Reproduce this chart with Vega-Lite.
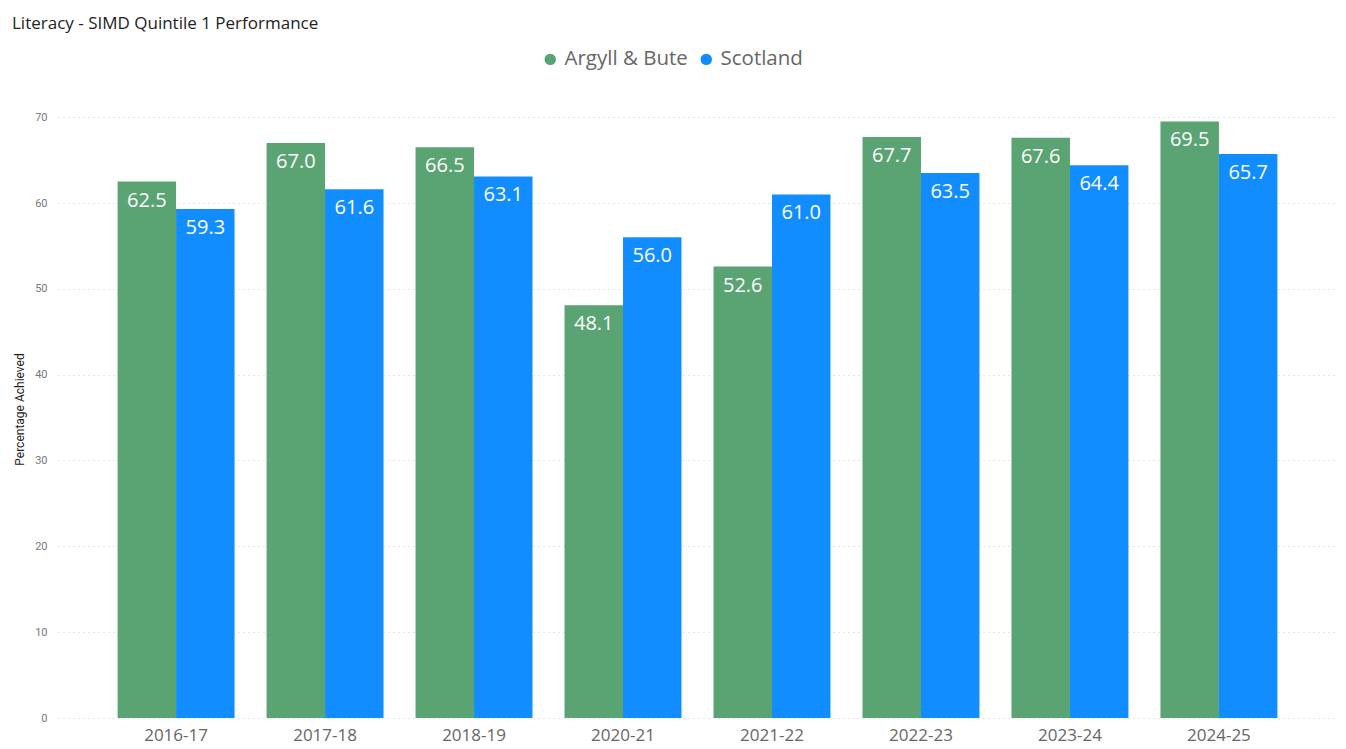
{
  "$schema": "https://vega.github.io/schema/vega-lite/v6.json",
  "width": 1279,
  "height": 618,
  "autosize": {"type": "none"},
  "padding": {"left": 58, "top": 100, "right": 9, "bottom": 31},
  "background": "white",
  "title": {
    "text": "Literacy - SIMD Quintile 1 Performance",
    "anchor": "start",
    "frame": "group",
    "font": "Open Sans",
    "fontSize": 17,
    "fontWeight": "normal",
    "color": "#222222",
    "dx": -46,
    "offset": 16
  },
  "config": {
    "view": {"stroke": null}
  },
  "data": {
    "values": [
      {"year": "2016-17", "series": "Argyll & Bute", "value": 62.5},
      {"year": "2016-17", "series": "Scotland", "value": 59.3},
      {"year": "2017-18", "series": "Argyll & Bute", "value": 67.0},
      {"year": "2017-18", "series": "Scotland", "value": 61.6},
      {"year": "2018-19", "series": "Argyll & Bute", "value": 66.5},
      {"year": "2018-19", "series": "Scotland", "value": 63.1},
      {"year": "2020-21", "series": "Argyll & Bute", "value": 48.1},
      {"year": "2020-21", "series": "Scotland", "value": 56.0},
      {"year": "2021-22", "series": "Argyll & Bute", "value": 52.6},
      {"year": "2021-22", "series": "Scotland", "value": 61.0},
      {"year": "2022-23", "series": "Argyll & Bute", "value": 67.7},
      {"year": "2022-23", "series": "Scotland", "value": 63.5},
      {"year": "2023-24", "series": "Argyll & Bute", "value": 67.6},
      {"year": "2023-24", "series": "Scotland", "value": 64.4},
      {"year": "2024-25", "series": "Argyll & Bute", "value": 69.5},
      {"year": "2024-25", "series": "Scotland", "value": 65.7}
    ]
  },
  "encoding": {
    "x": {
      "field": "year",
      "type": "nominal",
      "sort": null,
      "scale": {"paddingInner": 0.215, "paddingOuter": 0.4},
      "axis": {
        "title": null,
        "labelAngle": 0,
        "domain": false,
        "ticks": false,
        "labelFont": "Open Sans",
        "labelFontSize": 17,
        "labelColor": "#666666",
        "labelPadding": 9
      }
    },
    "xOffset": {
      "field": "series",
      "type": "nominal",
      "scale": {"domain": ["Argyll & Bute", "Scotland"]}
    },
    "y": {
      "field": "value",
      "type": "quantitative",
      "scale": {"domain": [0, 72]},
      "axis": {
        "values": [0, 10, 20, 30, 40, 50, 60, 70],
        "grid": true,
        "gridDash": [1, 4],
        "gridColor": "#c8c8c8",
        "domain": false,
        "ticks": false,
        "labelFont": "Roboto",
        "labelFontSize": 11,
        "labelColor": "#777777",
        "labelPadding": 11,
        "title": "Percentage Achieved",
        "titleFont": "Roboto",
        "titleFontSize": 12,
        "titleFontWeight": "normal",
        "titleColor": "#222222",
        "titlePadding": 8
      }
    }
  },
  "layer": [
    {
      "mark": {"type": "bar"},
      "encoding": {
        "color": {
          "field": "series",
          "type": "nominal",
          "scale": {"domain": ["Argyll & Bute", "Scotland"], "range": ["#5AA373", "#118DFF"]},
          "legend": {
            "title": null,
            "orient": "none",
            "legendX": 482,
            "legendY": -51,
            "direction": "horizontal",
            "symbolType": "circle",
            "symbolSize": 130,
            "labelFont": "Open Sans",
            "labelFontSize": 20.5,
            "labelColor": "#666666",
            "labelOffset": 4,
            "columnPadding": 8
          }
        }
      }
    },
    {
      "mark": {
        "type": "text",
        "color": "white",
        "font": "Open Sans",
        "fontSize": 20,
        "baseline": "top",
        "dy": 9
      },
      "encoding": {
        "text": {"field": "value", "type": "quantitative", "format": ".1f"}
      }
    }
  ]
}
